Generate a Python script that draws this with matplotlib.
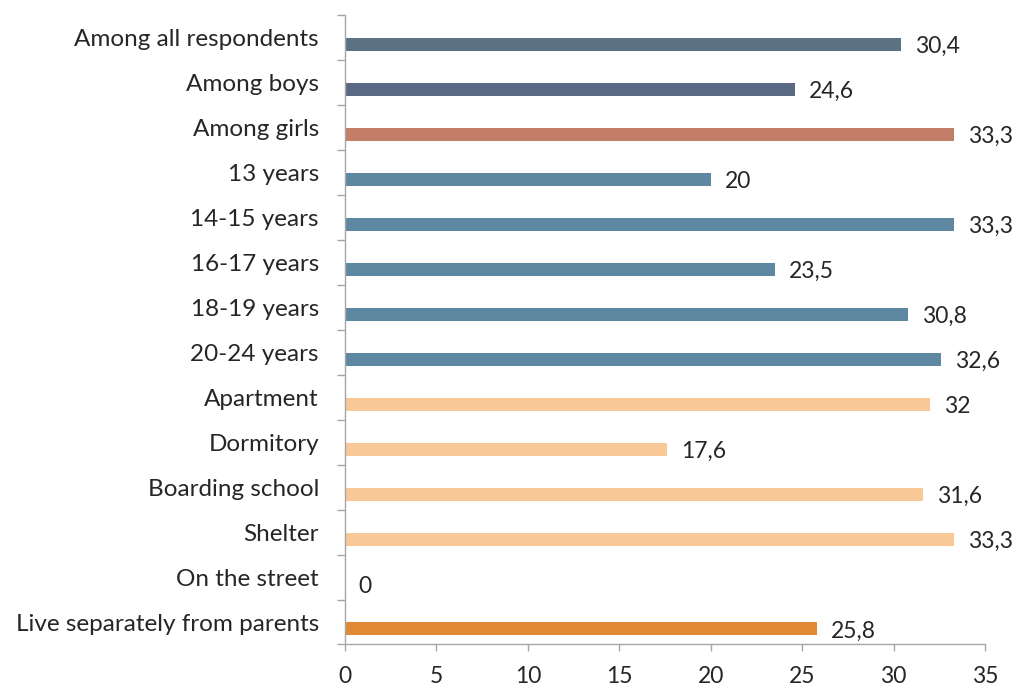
import numpy as np
import matplotlib
matplotlib.use('Agg')
from matplotlib import pyplot as plt

# 数据
categories = ['Among all respondents', 'Among boys', 'Among girls', '13 years',
              '14-15 years', '16-17 years', '18-19 years', '20-24 years',
              'Apartment', 'Dormitory', 'Boarding school', 'Shelter',
              'On the street', 'Live separately from parents']
values = [30.4, 24.6, 33.3, 20, 33.3, 23.5, 30.8, 32.6, 32, 17.6, 31.6, 33.3, 0, 25.8]
value_labels = ['30,4', '24,6', '33,3', '20', '33,3', '23,5', '30,8', '32,6',
                '32', '17,6', '31,6', '33,3', '0', '25,8']
bar_colors = ['#5B7282', '#5A6A84', '#C27E67', '#5E88A2', '#5E88A2', '#5E88A2',
              '#5E88A2', '#5E88A2', '#F8C896', '#F8C896', '#F8C896', '#F8C896',
              '#F8C896', '#E08A35']
x_ticks = [0, 5, 10, 15, 20, 25, 30, 35]

plt.rcParams['font.family'] = ['Lato', 'DejaVu Sans']
text_color = '#262626'
axis_color = '#A6A6A6'
fs = 17.5
fs_num = 16.5

fig = plt.figure(figsize=(10.14, 6.89), dpi=100)
ax = fig.add_axes([0.3402, 0.0646, 0.6312, 0.9137])

y = np.arange(len(categories))
# 条形略低于类别中心
ax.barh(y + 0.155, values, height=0.29, color=bar_colors)

for yi, v, lab in zip(y, values, value_labels):
    ax.annotate(lab, (v, yi + 0.155), xytext=(10, -1.5), textcoords='offset points',
                va='center', ha='left', fontsize=fs_num, color=text_color)

ax.set_xlim(0, 35)
ax.set_ylim(len(categories) - 0.5, -0.5)

ax.set_xticks(x_ticks)
ax.set_xticklabels([str(t) for t in x_ticks])
ax.tick_params(axis='x', direction='out', length=5, width=1, color=axis_color,
               labelsize=fs_num, labelcolor=text_color, pad=10.5)

ax.set_yticks(y)
ax.set_yticklabels(categories)
ax.tick_params(axis='y', which='major', length=0, labelsize=fs,
               labelcolor=text_color, pad=18.7)
ax.set_yticks(np.arange(len(categories) + 1) - 0.5, minor=True)
ax.tick_params(axis='y', which='minor', direction='out', length=5.8, width=1,
               color=axis_color)

for s in ['top', 'right']:
    ax.spines[s].set_visible(False)
for s in ['left', 'bottom']:
    ax.spines[s].set_color(axis_color)
    ax.spines[s].set_linewidth(1)

fig.savefig('out.png', dpi=100)
